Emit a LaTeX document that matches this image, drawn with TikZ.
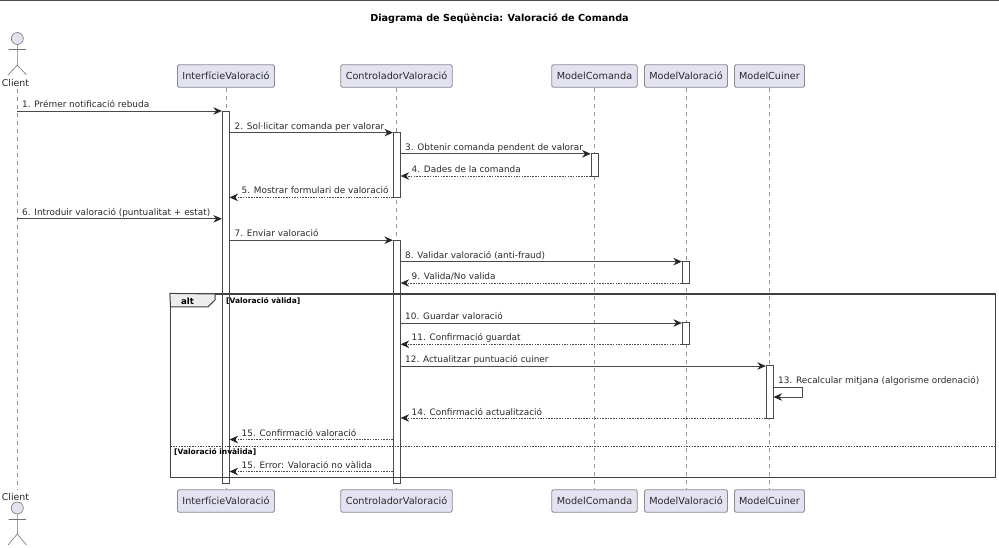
\documentclass[tikz,border=0pt]{standalone}
\usepackage{fontspec}
\setmainfont{DejaVu Sans}
\usetikzlibrary{arrows.meta}
\definecolor{partfill}{HTML}{E2E2F0}
\definecolor{partline}{HTML}{8A8A92}
\definecolor{lineink}{HTML}{4A4A4A}
\definecolor{textink}{HTML}{2A2A2A}
\tikzset{
    part/.style={draw=partline, fill=partfill, line width=0.8pt, rounded corners=1.5pt, inner sep=0pt, minimum height=22.5pt, text=textink, font={\fontsize{9.7}{11}\selectfont}},
    actbar/.style={draw=lineink, fill=white, line width=0.7pt, inner sep=0pt, minimum width=7pt},
    lifeline/.style={draw=gray!85, line width=0.6pt, dash pattern=on 4pt off 4pt},
    stick/.style={draw=gray!90!black, line width=0.6pt},
    msg/.style={draw=lineink, line width=0.8pt, -{Stealth[length=8.5pt,width=7.5pt,inset=2.8pt,color=black!85]}},
    back/.style={msg, dash pattern=on 1.5pt off 1.2pt},
    lab/.style={anchor=base west, inner sep=0pt, text=textink, font={\fontsize{8.9}{10}\selectfont}},
    guard/.style={anchor=base west, inner sep=0pt, text=black, font={\fontsize{7.5}{9}\selectfont\bfseries}}
}
\begin{document}
\begin{tikzpicture}[x=1pt, y=-1pt]
    \useasboundingbox (0,0) rectangle (999,547);
    \fill[white] (0,0) rectangle (999,547);
    \draw[lineink, line width=1pt] (0,0.5) -- (999,0.5);
    \node[anchor=base, inner sep=0pt, font={\fontsize{9.65}{11}\selectfont\bfseries}] (title) at (499.5,21) {Diagrama de Seqüència: Valoració de Comanda};

    % participants
    \node[part, minimum width=97pt] (intTop) at (226,76) {InterfícieValoració};
    \node[part, minimum width=111.5pt] (ctrlTop) at (396.5,76) {ControladorValoració};
    \node[part, minimum width=85.5pt] (comTop) at (594.5,76) {ModelComanda};
    \node[part, minimum width=83pt] (valTop) at (686,76) {ModelValoració};
    \node[part, minimum width=70pt] (cuiTop) at (769.5,76) {ModelCuiner};
    \node[part, minimum width=97pt] (intBot) at (226,501) {InterfícieValoració};
    \node[part, minimum width=111.5pt] (ctrlBot) at (396.5,501) {ControladorValoració};
    \node[part, minimum width=85.5pt] (comBot) at (594.5,501) {ModelComanda};
    \node[part, minimum width=83pt] (valBot) at (686,501) {ModelValoració};
    \node[part, minimum width=70pt] (cuiBot) at (769.5,501) {ModelCuiner};

    % actor
    \node[anchor=base, inner sep=0pt, text=textink, font={\fontsize{9.4}{11}\selectfont}] (cliTop) at (15.5,86) {Client};
    \node[anchor=base, inner sep=0pt, text=textink, font={\fontsize{9.4}{11}\selectfont}] (cliBot) at (15.5,500) {Client};
    \node[circle, stick, fill=partfill, minimum size=12pt, inner sep=0pt] (headTop) at (17.3,38.5) {};
    \draw[stick] (headTop.south) -- (17.3,65) (8.5,49.5) -- (26,49.5) (8,75) -- (17.3,65) -- (26.5,75);
    \node[circle, stick, fill=partfill, minimum size=12pt, inner sep=0pt] (headBot) at (17.3,508) {};
    \draw[stick] (headBot.south) -- (17.3,534) (8.5,519.5) -- (26,519.5) (8,545) -- (17.3,534) -- (26.5,545);

    % lifelines
    \draw[lifeline] (17.3,89) -- (17.3,490);
    \draw[lifeline] (intTop) -- (intBot);
    \draw[lifeline] (ctrlTop) -- (ctrlBot);
    \draw[lifeline] (comTop) -- (comBot);
    \draw[lifeline] (valTop) -- (valBot);
    \draw[lifeline] (cuiTop) -- (cuiBot);
    \coordinate (cli) at (17.3,300);

    % activations
    \node[actbar, minimum height=372pt] (actInt) at (225.7,297.2) {};
    \node[actbar, minimum height=65pt] (actCtrlA) at (396.8,165) {};
    \node[actbar, minimum height=243pt] (actCtrlB) at (396.8,361.6) {};
    \node[actbar, minimum height=22.3pt] (actCom) at (594.5,164.8) {};
    \node[actbar, minimum height=21.7pt] (actValA) at (685.7,272.2) {};
    \node[actbar, minimum height=21.7pt] (actValB) at (685.7,333.6) {};
    \node[actbar, minimum height=52.5pt] (actCui) at (769.7,391.8) {};

    % message rows
    \foreach \n/\y in {1/111,2/132.6,3/153.8,4/176,5/197.4,6/218.8,7/240.2,8/261.6,9/283,10/323,11/344.3,12/366,13/387,14/418,15/439.5,16/471.5}
        \coordinate (m\n) at (0,\y);
    \coordinate (selfA) at (802.5,387);
    \coordinate (selfB) at (802.5,397);

    \draw[msg] (cli |- m1) -- (actInt.west |- m1);
    \draw[msg] (actInt.east |- m2) -- (actCtrlA.west |- m2);
    \draw[msg] (actCtrlA.east |- m3) -- (actCom.west |- m3);
    \draw[back] (actCom.west |- m4) -- (actCtrlA.east |- m4);
    \draw[back] (actCtrlA.west |- m5) -- (actInt.east |- m5);
    \draw[msg] (cli |- m6) -- (actInt.west |- m6);
    \draw[msg] (actInt.east |- m7) -- (actCtrlB.west |- m7);
    \draw[msg] (actCtrlB.east |- m8) -- (actValA.west |- m8);
    \draw[back] (actValA.west |- m9) -- (actCtrlB.east |- m9);
    \draw[msg] (actCtrlB.east |- m10) -- (actValB.west |- m10);
    \draw[back] (actValB.west |- m11) -- (actCtrlB.east |- m11);
    \draw[msg] (actCtrlB.east |- m12) -- (actCui.west |- m12);
    \draw[msg] (actCui.east |- m13) -- (selfA) -- (selfB) -- (actCui.east |- selfB);
    \draw[back] (actCui.west |- m14) -- (actCtrlB.east |- m14);
    \draw[back] (actCtrlB.west |- m15) -- (actInt.east |- m15);
    \draw[back] (actCtrlB.west |- m16) -- (actInt.east |- m16);

    % alt frame
    \node[draw=black!75, line width=1.3pt, minimum width=825pt, minimum height=183.5pt, inner sep=0pt] (altBox) at (583,385.8) {};
    \coordinate (altSplitL) at (170.5,446);
    \coordinate (altSplitR) at (995.5,446);
    \draw[lineink, line width=0.7pt, dash pattern=on 1.5pt off 1.2pt] (altSplitL) -- (altSplitR);
    \draw[black!75, line width=1pt, fill=black!7] (altBox.north west) -- (215,294) -- (215,300) -- (208,306.8) -- (170.5,306.8) -- cycle;
    \node[anchor=base, inner sep=0pt, font={\fontsize{8.6}{10}\selectfont\bfseries}] (altTag) at (187.5,304) {alt};
    \node[guard] (guardA) at (226,303.3) {[Valoració vàlida]};
    \node[guard] (guardB) at (174,454) {[Valoració invàlida]};

    % message texts
    \node[lab] (t1) at (22,107.5) {1. Prémer notificació rebuda};
    \node[lab] (t2) at (234.5,129) {2. Sol·licitar comanda per valorar};
    \node[lab] (t3) at (405,150.5) {3. Obtenir comanda pendent de valorar};
    \node[lab] (t4) at (411.5,172) {4. Dades de la comanda};
    \node[lab] (t5) at (241.5,193.5) {5. Mostrar formulari de valoració};
    \node[lab] (t6) at (22,215) {6. Introduir valoració (puntualitat + estat)};
    \node[lab] (t7) at (234.5,236.5) {7. Enviar valoració};
    \node[lab] (t8) at (405,258) {8. Validar valoració (anti-fraud)};
    \node[lab] (t9) at (411.5,279.5) {9. Valida/No valida};
    \node[lab] (t10) at (405,319) {10. Guardar valoració};
    \node[lab] (t11) at (411.5,340.5) {11. Confirmació guardat};
    \node[lab] (t12) at (405,362) {12. Actualitzar puntuació cuiner};
    \node[lab] (t13) at (778,383.5) {13. Recalcular mitjana (algorisme ordenació)};
    \node[lab] (t14) at (411.5,415) {14. Confirmació actualització};
    \node[lab] (t15) at (241.5,436.5) {15. Confirmació valoració};
    \node[lab] (t16) at (241.5,468.5) {15. Error: Valoració no vàlida};
\end{tikzpicture}
\end{document}
